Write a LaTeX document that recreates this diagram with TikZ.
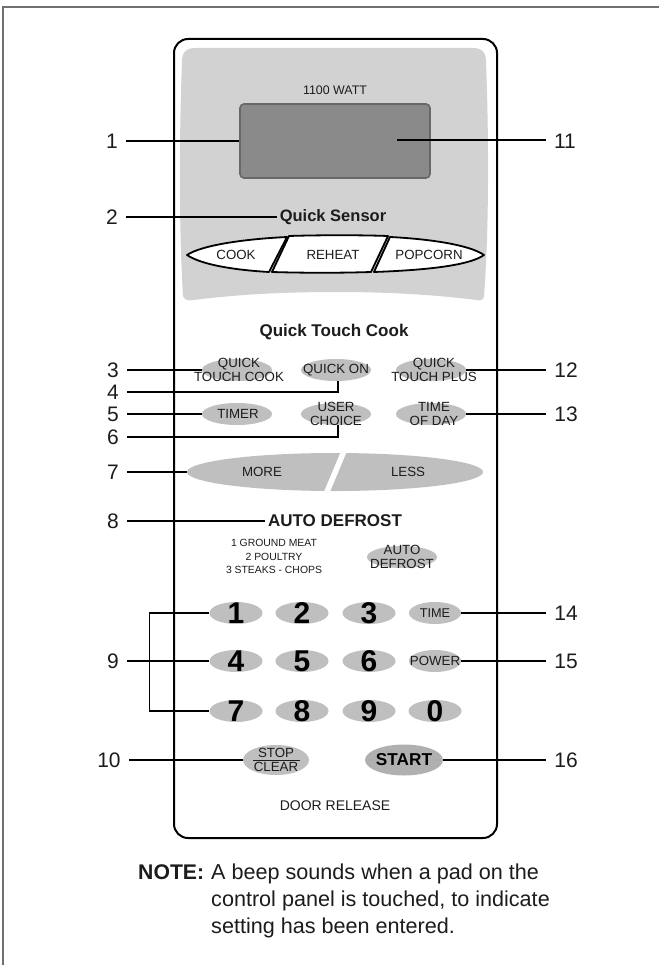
\documentclass[tikz,border=0pt]{standalone}
\usepackage{fontspec}
\setmainfont{Liberation Sans}
\usetikzlibrary{shapes.geometric}
\definecolor{ink}{HTML}{1C1C1C}
\definecolor{padgrey}{HTML}{BFBFBF}
\definecolor{facegrey}{HTML}{D2D2D2}
\definecolor{dispgrey}{HTML}{8A8A8A}
\definecolor{dispedge}{HTML}{686868}
\definecolor{framegrey}{HTML}{707070}
\newcommand{\fs}[1]{\fontsize{#1}{#1}\selectfont}
\tikzset{
  txt/.style={inner sep=0pt,align=center,text=ink,font=\fontsize{13.3}{13.5}\selectfont},
  small/.style={txt,font=\fontsize{10.4}{13.5}\selectfont},
  boldtxt/.style={txt,inner xsep=3pt,font=\bfseries\fs{17}},
  digit/.style={txt,text=black,font=\bfseries\fs{30}},
  pad/.style={ellipse,fill=padgrey,inner sep=0pt,minimum width=#1,minimum height=22},
  pad/.default=70,
  leader/.style={draw=black,line width=1.4pt,line join=miter},
  numl/.style={inner ysep=0pt,inner xsep=8pt,text=ink,font=\fs{21}},
  sensor/.style={draw=black,fill=white,line width=1.8pt,line join=round},
  notetxt/.style={inner sep=0pt,anchor=base west,text=ink,font=\fs{21.6}}
}
\begin{document}
\begin{tikzpicture}[x=1pt,y=-1pt]
\useasboundingbox (0,0) rectangle (659,965);
\draw[framegrey,line width=1.5pt] (3,965) -- (3,7) -- (659,7);

% panel
\draw[black,line width=2pt,rounded corners=14,fill=white] (174,39) rectangle (497,838);
\fill[facegrey] (182,62) .. controls (182,52) and (186,48) .. (196,48)
  -- (472,48) .. controls (482,48) and (486,52) .. (486,62)
  .. controls (489,140) and (489,230) .. (484,296)
  .. controls (484,300) and (480,301) .. (476,300)
  .. controls (430,294) and (380,292) .. (335,292)
  .. controls (290,292) and (240,294) .. (194,300)
  .. controls (188,301) and (184,300) .. (183,296)
  .. controls (179,230) and (179,140) .. (182,62) -- cycle;

% display
\node[draw=dispedge,fill=dispgrey,line width=1.6pt,rounded corners=4,minimum width=190,minimum height=74,inner sep=0pt] (disp) at (335,141) {};
\coordinate (dispin) at (397,140);
\node[txt,font=\fs{12.4}] (watt) at (335,90) {1100 WATT};
\node[boldtxt] (qs) at (333,217) {\fontsize{16.5}{16.5}\selectfont Quick Sensor};

% sensor pads
\draw[sensor] (287,237) .. controls (245,239) and (202,245) .. (187,255) .. controls (202,265) and (235,270) .. (269,272) -- cycle;
\draw[sensor] (289,236) .. controls (320,235) and (360,235) .. (388,236) -- (371,272) .. controls (340,273) and (305,273) .. (272,272) -- cycle;
\draw[sensor] (390,237) .. controls (430,239) and (470,245) .. (484,255) .. controls (470,265) and (430,270) .. (374,272) -- cycle;
\node[txt] (cook) at (236,255) {COOK};
\node[txt] (reheat) at (333,255) {REHEAT};
\node[txt] (popcorn) at (429,255) {POPCORN};

\node[boldtxt] (qtc) at (334,332) {Quick Touch Cook};

% touch pads
\node[pad] (k3) at (237,370) {};
\node[pad] (k4) at (336,370) {};
\node[pad] (k12) at (431,370) {};
\node[pad] (k5) at (237,414) {};
\node[pad] (k6) at (336,414) {};
\node[pad] (k13) at (431,414) {};
\node[txt] (t3) at (239,370) {QUICK\\TOUCH COOK};
\node[txt] (t4) at (336,370) {QUICK ON};
\node[txt] (t12) at (434,370) {QUICK\\TOUCH PLUS};
\node[txt] (t5) at (238,414) {TIMER};
\node[txt] (t6) at (336,414) {USER\\CHOICE};
\node[txt] (t13) at (434,414) {TIME\\OF DAY};

% more / less
\node[ellipse,fill=padgrey,inner sep=0pt,minimum width=296,minimum height=38] (more) at (335,472) {};
\fill[white] (341.5,450) -- (347.5,450) -- (329,494) -- (323,494) -- cycle;
\node[txt] (tmore) at (262,472) {MORE};
\node[txt] (tless) at (408,472) {LESS};

% auto defrost
\node[boldtxt] (ad) at (335,521) {AUTO DEFROST};
\node[small] (menu) at (274,556.5) {1 GROUND MEAT\\2 POULTRY\\3 STEAKS - CHOPS};
\node[pad] (kad) at (402,557) {};
\node[txt] (tad) at (402,557) {AUTO\\DEFROST};

% number pads
\foreach \nm/\lab/\px/\py in {1/1/236/613,2/2/302/613,3/3/369/613,4/4/236/661,5/5/302/661,6/6/369/661,7/7/236/711,8/8/302/711,9/9/369/711,0/0/435/711}{
  \node[pad=53] (n\nm) at (\px,\py) {};
  \node[digit] (d\nm) at (\px,\py) {\lab};
}
\node[pad=52] (ktime) at (435,613) {};
\node[txt,font=\fs{12.7}] (ttime) at (435,613) {TIME};
\node[pad=52] (kpower) at (435,661) {};
\node[txt] (tpower) at (435,661) {POWER};

% stop / start
\node[pad=66,minimum height=30] (kstop) at (276,760) {};
\node[txt] (tstop) at (276,760) {STOP\\CLEAR};
\coordinate (sl) at (253,760);
\coordinate (sr) at (300,760);
\draw[ink,line width=.8pt] (sl) -- (sr);
\node[pad=78,minimum height=31,fill=padgrey!92!black] (kstart) at (404,760) {};
\node[txt,font=\bfseries\fs{17.2},text=black] (tstart) at (404,760) {START};
\node[txt,font=\fs{14}] (door) at (335,806) {DOOR RELEASE};

% number labels
\node[numl] (l1) at (112,141) {1};
\node[numl] (l2) at (112,217) {2};
\node[numl] (l3) at (113,370) {3};
\node[numl] (l4) at (113,392) {4};
\node[numl] (l5) at (113,414) {5};
\node[numl] (l6) at (113,437) {6};
\node[numl] (l7) at (113,472) {7};
\node[numl] (l8) at (113,521) {8};
\node[numl] (l9) at (113,661) {9};
\node[numl] (l10) at (109,760) {10};
\node[numl] (l11) at (565,141) {11};
\node[numl] (l12) at (566,370) {12};
\node[numl] (l13) at (566,414) {13};
\node[numl] (l14) at (566,613) {14};
\node[numl] (l15) at (566,661) {15};
\node[numl] (l16) at (566,760) {16};

% leaders
\draw[leader] (l1.east) -- (disp.west |- l1.east);
\draw[leader] (dispin) -- (dispin -| l11.west);
\draw[leader] (l2.east) -- (qs.west);
\draw[leader] (l3.east) -- (k3.west);
\draw[leader] (l4.east) -| ([xshift=2pt]k4.south);
\draw[leader] (l5.east) -- (k5.west);
\draw[leader] (l6.east) -| ([xshift=2pt]k6.south);
\draw[leader] (l7.east) -- (more.west);
\draw[leader] (l8.east) -- (ad.west);
\draw[leader] (l9.east) -- (n4.west);
\draw[leader] (n1.west) -- ++(-60,0) |- (n7.west);
\draw[leader] (l10.east) -- (kstop.west);
\draw[leader] (l12.west) -- (k12.east);
\draw[leader] (l13.west) -- (k13.east);
\draw[leader] (l14.west) -- (ktime.east);
\draw[leader] (l15.west) -- (kpower.east);
\draw[leader] (l16.west) -- (kstart.east);

% note
\node[notetxt,font=\bfseries\fs{21.2}] (note) at (138,879) {NOTE:};
\node[notetxt] (n1l) at (211,879) {A beep sounds when a pad on the};
\node[notetxt] (n2l) at (211,906) {control panel is touched, to indicate};
\node[notetxt] (n3l) at (211,933) {setting has been entered.};
\end{tikzpicture}
\end{document}
